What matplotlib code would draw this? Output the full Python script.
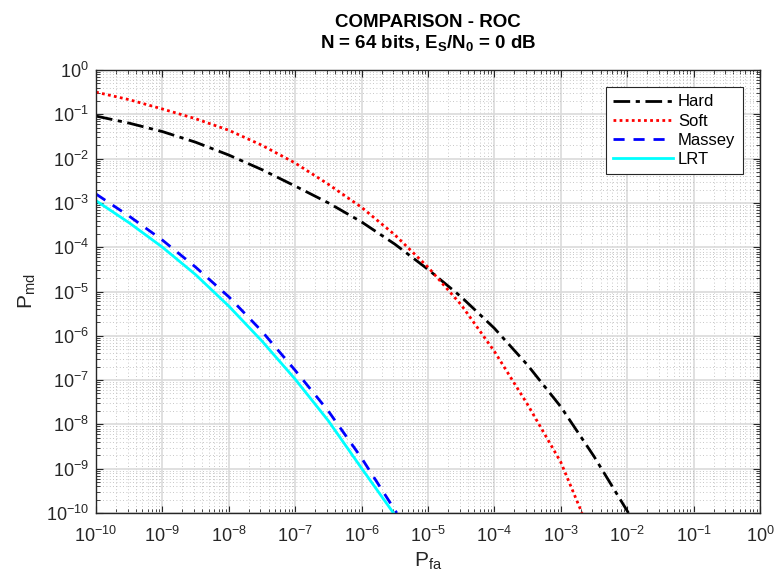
import numpy as np
import matplotlib
matplotlib.use('Agg')
import matplotlib.pyplot as plt
from matplotlib.ticker import LogLocator, NullFormatter, FuncFormatter

plt.rcParams['font.family'] = ['Liberation Sans', 'DejaVu Sans']
plt.rcParams['mathtext.fontset'] = 'custom'
plt.rcParams['mathtext.rm'] = 'Liberation Sans'
plt.rcParams['mathtext.it'] = 'Liberation Sans'
plt.rcParams['mathtext.bf'] = 'Liberation Sans:bold'
plt.rcParams['mathtext.default'] = 'regular'

# log10 of P_fa / P_md
hard_x = [-10, -9.5, -9, -8.5, -8, -7.5, -7, -6.5, -6, -5.5, -5, -4.5, -4, -3.5, -3, -2.5, -2, -1.98]
hard_y = [-1.04, -1.2, -1.39, -1.63, -1.92, -2.25, -2.62, -3.0, -3.43, -3.93, -4.5, -5.12, -5.83, -6.66, -7.6, -8.72, -9.95, -10]

soft_x = [-10, -9.5, -9, -8.5, -8, -7.5, -7, -6.5, -6, -5.5, -5, -4.5, -4, -3.5, -3, -2.68]
soft_y = [-0.5, -0.67, -0.88, -1.1, -1.36, -1.7, -2.1, -2.58, -3.1, -3.72, -4.45, -5.3, -6.35, -7.55, -8.85, -10]

massey_x = [-10, -9.5, -9, -8.5, -8, -7.5, -7, -6.5, -6, -5.5, -5.47]
massey_y = [-2.8, -3.3, -3.84, -4.45, -5.12, -5.9, -6.78, -7.7, -8.76, -9.93, -10]

lrt_x = [-10, -9.5, -9, -8.5, -8, -7.5, -7, -6.5, -6, -5.52]
lrt_y = [-2.95, -3.45, -4.0, -4.62, -5.33, -6.12, -6.98, -7.92, -8.99, -10]

fig = plt.figure(figsize=(7.77, 5.8), dpi=100)
ax = fig.add_axes([0.1236, 0.1155, 0.8544, 0.7638])

def p(v):
    return 10.0 ** np.array(v)

ax.plot(p(hard_x), p(hard_y), color='black', lw=2, ls=(0, (6, 2, 1.5, 2)), label='Hard')
ax.plot(p(soft_x), p(soft_y), color='red', lw=2, ls=(0, (1, 1.2)), label='Soft')
ax.plot(p(massey_x), p(massey_y), color='blue', lw=2, ls=(0, (4, 3.2)), label='Massey')
ax.plot(p(lrt_x), p(lrt_y), color='cyan', lw=2, ls='-', label='LRT')

ax.set_xscale('log')
ax.set_yscale('log')
ax.set_xlim(1e-10, 1e0)
ax.set_ylim(1e-10, 1e0)

for axis in (ax.xaxis, ax.yaxis):
    axis.set_major_locator(LogLocator(base=10, numticks=12))
    axis.set_minor_locator(LogLocator(base=10, subs=np.arange(2, 10), numticks=12))
    axis.set_minor_formatter(NullFormatter())
    axis.set_major_formatter(FuncFormatter(lambda v, pos: r'$10^{%d}$' % round(np.log10(v))))

ax.tick_params(which='both', direction='in', top=True, right=True, colors='#262626',
               labelsize=13)
ax.tick_params(which='major', length=5, width=0.8)
ax.tick_params(which='minor', length=3, width=0.6)
ax.tick_params(axis='x', pad=9)
ax.tick_params(axis='y', pad=5)

ax.grid(which='major', color='#dadada', lw=1.2, ls='-')
ax.grid(which='minor', color='#b4b4b4', lw=0.6, ls=(0, (1, 3)))
ax.set_axisbelow(True)
for s in ax.spines.values():
    s.set_color('#262626')
    s.set_linewidth(1)

ax.set_xlabel(r'P$_{fa}$', fontsize=15, color='#262626', labelpad=4)
ax.set_ylabel(r'P$_{md}$', fontsize=15, color='#262626', labelpad=6)

ax.set_title('COMPARISON - ROC\n' + r'N = 64 bits, E$_\mathbf{S}$/N$_\mathbf{0}$ = 0 dB',
             fontsize=13.5, fontweight='bold', pad=16, linespacing=1.15)

leg = ax.legend(loc='upper right', bbox_to_anchor=(0.9744, 0.962), borderaxespad=0,
                fontsize=12, fancybox=False, framealpha=1, edgecolor='#262626',
                handlelength=3.6, handletextpad=0.3, borderpad=0.45, labelspacing=0.25)
leg.get_frame().set_linewidth(0.8)

fig.savefig('out.png', dpi=100)
